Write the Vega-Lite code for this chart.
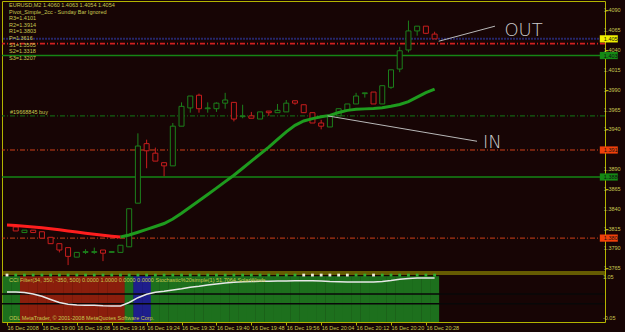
{
  "$schema": "https://vega.github.io/schema/vega-lite/v6.json",
  "autosize": {"type": "none"},
  "padding": {"left": 2, "top": 1, "right": 20, "bottom": 10},
  "background": "#170505",
  "width": 603,
  "height": 321,
  "config": {
    "view": {"stroke": "#b4b400", "strokeWidth": 1, "fill": "#170505"},
    "font": "Liberation Sans",
    "axis": {"labelFont": "Liberation Sans", "labelFontSize": 5.5, "labelColor": "#c8c850", "tickColor": "#b4b400", "domain": false, "grid": false, "labelOverlap": false, "labelBound": false, "labelFlush": false, "title": null}
  },
  "datasets": {
    "candles": [
      {"t":"2008-12-16 18:54","o":1.3817,"h":1.3817,"l":1.3812,"c":1.3812},
      {"t":"2008-12-16 18:56","o":1.3810,"h":1.3813,"l":1.3810,"c":1.3813},
      {"t":"2008-12-16 18:58","o":1.3813,"h":1.3813,"l":1.3810,"c":1.3810},
      {"t":"2008-12-16 19:00","o":1.3811,"h":1.3811,"l":1.3803,"c":1.3803},
      {"t":"2008-12-16 19:02","o":1.3804,"h":1.3804,"l":1.3796,"c":1.3796},
      {"t":"2008-12-16 19:04","o":1.3796,"h":1.3796,"l":1.3785,"c":1.3788},
      {"t":"2008-12-16 19:06","o":1.3791,"h":1.3791,"l":1.3769,"c":1.3780},
      {"t":"2008-12-16 19:08","o":1.3779,"h":1.3785,"l":1.3779,"c":1.3785},
      {"t":"2008-12-16 19:10","o":1.3785,"h":1.3789,"l":1.3783,"c":1.3786},
      {"t":"2008-12-16 19:12","o":1.3785,"h":1.3791,"l":1.3783,"c":1.3786},
      {"t":"2008-12-16 19:14","o":1.3788,"h":1.3788,"l":1.3774,"c":1.3784},
      {"t":"2008-12-16 19:16","o":1.3785,"h":1.3786,"l":1.3785,"c":1.3786},
      {"t":"2008-12-16 19:18","o":1.3785,"h":1.3794,"l":1.3785,"c":1.3794},
      {"t":"2008-12-16 19:20","o":1.3792,"h":1.3840,"l":1.3792,"c":1.3840},
      {"t":"2008-12-16 19:22","o":1.3847,"h":1.3935,"l":1.3847,"c":1.3919},
      {"t":"2008-12-16 19:24","o":1.3922,"h":1.3927,"l":1.3891,"c":1.3913},
      {"t":"2008-12-16 19:26","o":1.3910,"h":1.3917,"l":1.3900,"c":1.3900},
      {"t":"2008-12-16 19:28","o":1.3898,"h":1.3898,"l":1.3881,"c":1.3894},
      {"t":"2008-12-16 19:30","o":1.3894,"h":1.3948,"l":1.3894,"c":1.3944},
      {"t":"2008-12-16 19:32","o":1.3944,"h":1.3974,"l":1.3944,"c":1.3969},
      {"t":"2008-12-16 19:34","o":1.3967,"h":1.3982,"l":1.3961,"c":1.3982},
      {"t":"2008-12-16 19:36","o":1.3983,"h":1.3985,"l":1.3961,"c":1.3966},
      {"t":"2008-12-16 19:38","o":1.3966,"h":1.3974,"l":1.3961,"c":1.3967},
      {"t":"2008-12-16 19:40","o":1.3966,"h":1.3974,"l":1.3962,"c":1.3973},
      {"t":"2008-12-16 19:42","o":1.3973,"h":1.3986,"l":1.3966,"c":1.3977},
      {"t":"2008-12-16 19:44","o":1.3974,"h":1.3974,"l":1.3950,"c":1.3953},
      {"t":"2008-12-16 19:46","o":1.3956,"h":1.3971,"l":1.3954,"c":1.3957},
      {"t":"2008-12-16 19:48","o":1.3957,"h":1.3962,"l":1.3954,"c":1.3954},
      {"t":"2008-12-16 19:50","o":1.3953,"h":1.3962,"l":1.3953,"c":1.3962},
      {"t":"2008-12-16 19:52","o":1.3963,"h":1.3963,"l":1.3957,"c":1.3961},
      {"t":"2008-12-16 19:54","o":1.3961,"h":1.3972,"l":1.3961,"c":1.3964},
      {"t":"2008-12-16 19:56","o":1.3962,"h":1.3977,"l":1.3962,"c":1.3973},
      {"t":"2008-12-16 19:58","o":1.3976,"h":1.3976,"l":1.3971,"c":1.3973},
      {"t":"2008-12-16 20:00","o":1.3971,"h":1.3971,"l":1.3961,"c":1.3961},
      {"t":"2008-12-16 20:02","o":1.3961,"h":1.3961,"l":1.3948,"c":1.3948},
      {"t":"2008-12-16 20:04","o":1.3948,"h":1.3952,"l":1.3940,"c":1.3944},
      {"t":"2008-12-16 20:06","o":1.3943,"h":1.3956,"l":1.3943,"c":1.3956},
      {"t":"2008-12-16 20:08","o":1.3957,"h":1.3966,"l":1.3957,"c":1.3966},
      {"t":"2008-12-16 20:10","o":1.3964,"h":1.3972,"l":1.3964,"c":1.3972},
      {"t":"2008-12-16 20:12","o":1.3972,"h":1.3986,"l":1.3972,"c":1.3982},
      {"t":"2008-12-16 20:14","o":1.3985,"h":1.3986,"l":1.3980,"c":1.3986},
      {"t":"2008-12-16 20:16","o":1.3987,"h":1.3987,"l":1.3972,"c":1.3972},
      {"t":"2008-12-16 20:18","o":1.3972,"h":1.3995,"l":1.3972,"c":1.3995},
      {"t":"2008-12-16 20:20","o":1.3993,"h":1.4015,"l":1.3991,"c":1.4015},
      {"t":"2008-12-16 20:22","o":1.4016,"h":1.4044,"l":1.4012,"c":1.4039},
      {"t":"2008-12-16 20:24","o":1.4040,"h":1.4077,"l":1.4037,"c":1.4064},
      {"t":"2008-12-16 20:26","o":1.4064,"h":1.4070,"l":1.4058,"c":1.4070},
      {"t":"2008-12-16 20:28","o":1.4070,"h":1.4070,"l":1.4060,"c":1.4061},
      {"t":"2008-12-16 20:30","o":1.4060,"h":1.4063,"l":1.4054,"c":1.4054}
    ],
    "ma": [
      {"t":"2008-12-16 18:52","ma":1.38195,"seg":"down"},
      {"t":"2008-12-16 18:54","ma":1.38188,"seg":"down"},
      {"t":"2008-12-16 18:56","ma":1.38180,"seg":"down"},
      {"t":"2008-12-16 18:58","ma":1.38170,"seg":"down"},
      {"t":"2008-12-16 19:00","ma":1.38160,"seg":"down"},
      {"t":"2008-12-16 19:02","ma":1.38148,"seg":"down"},
      {"t":"2008-12-16 19:04","ma":1.38135,"seg":"down"},
      {"t":"2008-12-16 19:06","ma":1.38120,"seg":"down"},
      {"t":"2008-12-16 19:08","ma":1.38106,"seg":"down"},
      {"t":"2008-12-16 19:10","ma":1.38092,"seg":"down"},
      {"t":"2008-12-16 19:12","ma":1.38078,"seg":"down"},
      {"t":"2008-12-16 19:14","ma":1.38066,"seg":"down"},
      {"t":"2008-12-16 19:16","ma":1.38054,"seg":"down"},
      {"t":"2008-12-16 19:18","ma":1.38043,"seg":"down"},
      {"t":"2008-12-16 19:18","ma":1.38043,"seg":"up"},
      {"t":"2008-12-16 19:20","ma":1.38069,"seg":"up"},
      {"t":"2008-12-16 19:22","ma":1.38104,"seg":"up"},
      {"t":"2008-12-16 19:24","ma":1.38140,"seg":"up"},
      {"t":"2008-12-16 19:26","ma":1.38176,"seg":"up"},
      {"t":"2008-12-16 19:28","ma":1.38214,"seg":"up"},
      {"t":"2008-12-16 19:30","ma":1.38270,"seg":"up"},
      {"t":"2008-12-16 19:32","ma":1.38342,"seg":"up"},
      {"t":"2008-12-16 19:34","ma":1.38421,"seg":"up"},
      {"t":"2008-12-16 19:36","ma":1.38501,"seg":"up"},
      {"t":"2008-12-16 19:38","ma":1.38580,"seg":"up"},
      {"t":"2008-12-16 19:40","ma":1.38660,"seg":"up"},
      {"t":"2008-12-16 19:42","ma":1.38741,"seg":"up"},
      {"t":"2008-12-16 19:44","ma":1.38822,"seg":"up"},
      {"t":"2008-12-16 19:46","ma":1.38910,"seg":"up"},
      {"t":"2008-12-16 19:48","ma":1.39000,"seg":"up"},
      {"t":"2008-12-16 19:50","ma":1.39088,"seg":"up"},
      {"t":"2008-12-16 19:52","ma":1.39177,"seg":"up"},
      {"t":"2008-12-16 19:54","ma":1.39273,"seg":"up"},
      {"t":"2008-12-16 19:56","ma":1.39368,"seg":"up"},
      {"t":"2008-12-16 19:58","ma":1.39451,"seg":"up"},
      {"t":"2008-12-16 20:00","ma":1.39505,"seg":"up"},
      {"t":"2008-12-16 20:02","ma":1.39535,"seg":"up"},
      {"t":"2008-12-16 20:04","ma":1.39559,"seg":"up"},
      {"t":"2008-12-16 20:06","ma":1.39576,"seg":"up"},
      {"t":"2008-12-16 20:08","ma":1.39612,"seg":"up"},
      {"t":"2008-12-16 20:10","ma":1.39639,"seg":"up"},
      {"t":"2008-12-16 20:12","ma":1.39652,"seg":"up"},
      {"t":"2008-12-16 20:14","ma":1.39658,"seg":"up"},
      {"t":"2008-12-16 20:16","ma":1.39663,"seg":"up"},
      {"t":"2008-12-16 20:18","ma":1.39671,"seg":"up"},
      {"t":"2008-12-16 20:20","ma":1.39690,"seg":"up"},
      {"t":"2008-12-16 20:22","ma":1.39713,"seg":"up"},
      {"t":"2008-12-16 20:24","ma":1.39749,"seg":"up"},
      {"t":"2008-12-16 20:26","ma":1.39807,"seg":"up"},
      {"t":"2008-12-16 20:28","ma":1.39862,"seg":"up"},
      {"t":"2008-12-16 20:30","ma":1.39908,"seg":"up"}
    ],
    "levels": [
      {"p":1.4054,"kind":"bid"},
      {"p":1.4048,"kind":"stop"},
      {"p":1.4033,"kind":"pivot_g"},
      {"p":1.3957,"kind":"order","note":"#19668845 buy"},
      {"p":1.3914,"kind":"pivot_r"},
      {"p":1.3880,"kind":"pivot_g"},
      {"p":1.3803,"kind":"pivot_r"}
    ],
    "pticks": [
      {"p":1.4090},{"p":1.4065},{"p":1.4040},{"p":1.4015},{"p":1.3990},{"p":1.3965},{"p":1.3940},
      {"p":1.3890},{"p":1.3865},{"p":1.3840},{"p":1.3815},{"p":1.3790},{"p":1.3765}
    ],
    "arrows": [
      {"name":"in","t":"2008-12-16 20:05:28","p":1.3957},
      {"name":"in","t":"2008-12-16 20:39:43","p":1.3925},
      {"name":"out","t":"2008-12-16 20:30:56","p":1.4051},
      {"name":"out","t":"2008-12-16 20:43:50","p":1.4070}
    ],
    "notes": [
      {"t":"2008-12-16 20:41:04","p":1.3923,"text":"IN"},
      {"t":"2008-12-16 20:46:00","p":1.4064,"text":"OUT"}
    ],
    "panel": [
      {"t":"2008-12-16 18:52","st":0.637,"zone":"g","dot":"w"},
      {"t":"2008-12-16 18:54","st":0.637,"zone":"g","dot":"g"},
      {"t":"2008-12-16 18:56","st":0.626,"zone":"r","dot":"g"},
      {"t":"2008-12-16 18:58","st":0.592,"zone":"r","dot":"g"},
      {"t":"2008-12-16 19:00","st":0.539,"zone":"r","dot":"g"},
      {"t":"2008-12-16 19:02","st":0.466,"zone":"r","dot":"g"},
      {"t":"2008-12-16 19:04","st":0.397,"zone":"r","dot":"g"},
      {"t":"2008-12-16 19:06","st":0.356,"zone":"r","dot":"g"},
      {"t":"2008-12-16 19:08","st":0.340,"zone":"r","dot":"g"},
      {"t":"2008-12-16 19:10","st":0.333,"zone":"r","dot":"g"},
      {"t":"2008-12-16 19:12","st":0.333,"zone":"r","dot":"g"},
      {"t":"2008-12-16 19:14","st":0.321,"zone":"r","dot":"g"},
      {"t":"2008-12-16 19:16","st":0.317,"zone":"r","dot":"g"},
      {"t":"2008-12-16 19:18","st":0.317,"zone":"r","dot":"g"},
      {"t":"2008-12-16 19:20","st":0.397,"zone":"g","dot":"g"},
      {"t":"2008-12-16 19:22","st":0.507,"zone":"b","dot":"g"},
      {"t":"2008-12-16 19:24","st":0.585,"zone":"b","dot":"g"},
      {"t":"2008-12-16 19:26","st":0.633,"zone":"g","dot":"g"},
      {"t":"2008-12-16 19:28","st":0.654,"zone":"g","dot":"g"},
      {"t":"2008-12-16 19:30","st":0.683,"zone":"g","dot":"g"},
      {"t":"2008-12-16 19:32","st":0.713,"zone":"g","dot":"g"},
      {"t":"2008-12-16 19:34","st":0.748,"zone":"g","dot":"g"},
      {"t":"2008-12-16 19:36","st":0.770,"zone":"g","dot":"g"},
      {"t":"2008-12-16 19:38","st":0.798,"zone":"g","dot":"g"},
      {"t":"2008-12-16 19:40","st":0.821,"zone":"g","dot":"g"},
      {"t":"2008-12-16 19:42","st":0.844,"zone":"g","dot":"g"},
      {"t":"2008-12-16 19:44","st":0.862,"zone":"g","dot":"g"},
      {"t":"2008-12-16 19:46","st":0.871,"zone":"g","dot":"g"},
      {"t":"2008-12-16 19:48","st":0.878,"zone":"g","dot":"g"},
      {"t":"2008-12-16 19:50","st":0.883,"zone":"g","dot":"g"},
      {"t":"2008-12-16 19:52","st":0.885,"zone":"g","dot":"g"},
      {"t":"2008-12-16 19:54","st":0.888,"zone":"g","dot":"g"},
      {"t":"2008-12-16 19:56","st":0.890,"zone":"g","dot":"g"},
      {"t":"2008-12-16 19:58","st":0.893,"zone":"g","dot":"g"},
      {"t":"2008-12-16 20:00","st":0.896,"zone":"g","dot":"w"},
      {"t":"2008-12-16 20:02","st":0.894,"zone":"g","dot":"w"},
      {"t":"2008-12-16 20:04","st":0.889,"zone":"g","dot":"w"},
      {"t":"2008-12-16 20:06","st":0.878,"zone":"g","dot":"w"},
      {"t":"2008-12-16 20:08","st":0.872,"zone":"g","dot":"w"},
      {"t":"2008-12-16 20:10","st":0.867,"zone":"g","dot":"w"},
      {"t":"2008-12-16 20:12","st":0.867,"zone":"g","dot":"g"},
      {"t":"2008-12-16 20:14","st":0.866,"zone":"g","dot":"g"},
      {"t":"2008-12-16 20:16","st":0.867,"zone":"g","dot":"w"},
      {"t":"2008-12-16 20:18","st":0.880,"zone":"g","dot":"g"},
      {"t":"2008-12-16 20:20","st":0.901,"zone":"g","dot":"g"},
      {"t":"2008-12-16 20:22","st":0.929,"zone":"g","dot":"g"},
      {"t":"2008-12-16 20:24","st":0.947,"zone":"g","dot":"g"},
      {"t":"2008-12-16 20:26","st":0.958,"zone":"g","dot":"g"},
      {"t":"2008-12-16 20:28","st":0.958,"zone":"g","dot":"g"},
      {"t":"2008-12-16 20:30","st":0.958,"zone":"g","dot":"g"}
    ],
    "plevels": [{"lv":0.59},{"lv":0.37}]
  },
  "resolve": {"scale": {"y": "independent", "color": "independent", "fill": "independent"}, "axis": {"y": "independent"}},
  "layer": [
    {
      "layer": [
        {
          "data": {"name": "levels"},
          "mark": {"type": "rule"},
          "encoding": {
            "y": {"field": "p", "type": "quantitative",
              "scale": {"domain": [1.37603, 1.41017], "range": [271, 0], "nice": false, "zero": false},
              "axis": {"orient": "right", "title": null, "values": [1.409,1.4065,1.404,1.4015,1.399,1.3965,1.394,1.389,1.3865,1.384,1.3815,1.379,1.3765],
                "labels": false, "tickSize": 3}},
            "stroke": {"field": "kind", "type": "nominal", "scale": {"domain": ["bid","stop","pivot_g","order","pivot_r"], "range": ["#26266a","#d02020","#158515","#136013","#d0401a"]}, "legend": null},
            "strokeDash": {"field": "kind", "type": "nominal", "scale": {"domain": ["bid","stop","pivot_g","order","pivot_r"], "range": [[2,1],[5,2,1,2],[1,0],[5,2,1,2],[5,2,1,2]]}, "legend": null},
            "strokeWidth": {"field": "kind", "type": "nominal", "scale": {"domain": ["bid","stop","pivot_g","order","pivot_r"], "range": [2,1,2,1,1]}, "legend": null}
          }
        },
        {
          "data": {"values": [{}]},
          "mark": {"type": "rule", "color": "#b4b400", "strokeWidth": 1},
          "encoding": {
            "y": {"datum": 1.37603, "type": "quantitative"}
          }
        },
        {
          "data": {"name": "candles"},
          "mark": {"type": "rule", "strokeWidth": 1},
          "encoding": {
            "x": {"field": "t", "type": "temporal",
              "scale": {"domain": [{"year":2008,"month":12,"date":16,"hours":18,"minutes":52},{"year":2008,"month":12,"date":16,"hours":21,"minutes":7,"seconds":54}]}},
            "y": {"field": "l", "type": "quantitative"},
            "y2": {"field": "h"},
            "color": {"condition": {"test": "datum.c >= datum.o", "value": "#1c801c"}, "value": "#c81e1e"}
          }
        },
        {
          "data": {"name": "candles"},
          "mark": {"type": "bar", "width": 5, "fill": "#170505", "strokeWidth": 1},
          "encoding": {
            "x": {"field": "t", "type": "temporal"},
            "y": {"field": "o", "type": "quantitative"},
            "y2": {"field": "c"},
            "stroke": {"condition": {"test": "datum.c >= datum.o", "value": "#1c801c"}, "value": "#c81e1e"}
          }
        },
        {
          "data": {"name": "ma"},
          "mark": {"type": "line", "strokeWidth": 3},
          "encoding": {
            "x": {"field": "t", "type": "temporal"},
            "y": {"field": "ma", "type": "quantitative"},
            "color": {"field": "seg", "type": "nominal", "scale": {"domain": ["down","up"], "range": ["#ff1e1e","#1e9b1e"]}, "legend": null}
          }
        },
        {
          "data": {"name": "arrows"},
          "mark": {"type": "line", "color": "#b8b8b8", "strokeWidth": 1},
          "encoding": {
            "x": {"field": "t", "type": "temporal"},
            "y": {"field": "p", "type": "quantitative"},
            "detail": {"field": "name", "type": "nominal"}
          }
        },
        {
          "data": {"name": "notes"},
          "mark": {"type": "text", "align": "left", "baseline": "middle", "font": "DejaVu Sans", "fontWeight": 200, "fontSize": 18, "color": "#cccccc"},
          "encoding": {
            "x": {"field": "t", "type": "temporal"},
            "y": {"field": "p", "type": "quantitative"},
            "text": {"field": "text"}
          }
        },
        {
          "data": {"values": [{}]},
          "mark": {"type": "text", "align": "left", "baseline": "top", "dx": 2, "dy": 2, "fontSize": 5.5, "lineHeight": 6.6, "color": "#c8c850"},
          "encoding": {
            "x": {"datum": {"year":2008,"month":12,"date":16,"hours":18,"minutes":52}, "type": "temporal"},
            "y": {"datum": 1.41017, "type": "quantitative"},
            "text": {"value": ["EURUSD,M2  1.4060 1.4063 1.4054 1.4054", "Pivot_Simple_2cc - Sunday Bar Ignored", "R3=1.4101", "R2=1.3914", "R1=1.3803", "P=1.3616", "S1=1.3505", "S2=1.3318", "S3=1.3207"]}
          }
        },
        {
          "data": {"name": "levels"},
          "transform": [{"filter": "isValid(datum.note)"}],
          "mark": {"type": "text", "align": "left", "baseline": "bottom", "dx": 3, "dy": -0.5, "fontSize": 5.5, "color": "#c8c850"},
          "encoding": {
            "x": {"datum": {"year":2008,"month":12,"date":16,"hours":18,"minutes":52}, "type": "temporal"},
            "y": {"field": "p", "type": "quantitative"},
            "text": {"field": "note"}
          }
        },
        {
          "data": {"name": "pticks"},
          "mark": {"type": "text", "align": "left", "baseline": "middle", "fontSize": 5.5, "color": "#c8c850"},
          "encoding": {
            "x": {"datum": {"year":2008,"month":12,"date":16,"hours":21,"minutes":8,"seconds":47}, "type": "temporal"},
            "y": {"field": "p", "type": "quantitative"},
            "text": {"field": "p", "type": "quantitative", "format": ".4f"}
          }
        },
        {
          "data": {"name": "levels"},
          "transform": [{"filter": "datum.kind == 'bid' || datum.kind == 'pivot_g' || datum.kind == 'pivot_r'"}],
          "mark": {"type": "point", "shape": "M-1,-0.4H1V0.4H-1Z", "size": 324, "filled": true, "opacity": 1, "strokeWidth": 0},
          "encoding": {
            "x": {"datum": {"year":2008,"month":12,"date":16,"hours":21,"minutes":9,"seconds":55}, "type": "temporal"},
            "y": {"field": "p", "type": "quantitative"},
            "fill": {"field": "kind", "type": "nominal", "scale": {"domain": ["bid","pivot_g","pivot_r"], "range": ["#f0f000","#148a14","#f0400a"]}, "legend": null}
          }
        },
        {
          "data": {"name": "levels"},
          "transform": [{"filter": "datum.kind == 'bid' || datum.kind == 'pivot_g' || datum.kind == 'pivot_r'"}],
          "mark": {"type": "text", "align": "left", "baseline": "middle", "fontSize": 5.5, "color": "#101010"},
          "encoding": {
            "x": {"datum": {"year":2008,"month":12,"date":16,"hours":21,"minutes":8,"seconds":47}, "type": "temporal"},
            "y": {"field": "p", "type": "quantitative"},
            "text": {"field": "p", "type": "quantitative", "format": ".4f"}
          }
        }
      ]
    },
    {
      "layer": [
        {
          "data": {"name": "panel"},
          "mark": {"type": "bar", "width": 9, "strokeWidth": 0},
          "encoding": {
            "x": {"field": "t", "type": "temporal",
              "axis": {"orient": "bottom", "title": null, "values": [
                {"year":2008,"month":12,"date":16,"hours":18,"minutes":52},
                {"year":2008,"month":12,"date":16,"hours":19,"minutes":0},
                {"year":2008,"month":12,"date":16,"hours":19,"minutes":8},
                {"year":2008,"month":12,"date":16,"hours":19,"minutes":16},
                {"year":2008,"month":12,"date":16,"hours":19,"minutes":24},
                {"year":2008,"month":12,"date":16,"hours":19,"minutes":32},
                {"year":2008,"month":12,"date":16,"hours":19,"minutes":40},
                {"year":2008,"month":12,"date":16,"hours":19,"minutes":48},
                {"year":2008,"month":12,"date":16,"hours":19,"minutes":56},
                {"year":2008,"month":12,"date":16,"hours":20,"minutes":4},
                {"year":2008,"month":12,"date":16,"hours":20,"minutes":12},
                {"year":2008,"month":12,"date":16,"hours":20,"minutes":20},
                {"year":2008,"month":12,"date":16,"hours":20,"minutes":28}],
                "labelExpr": "hours(datum.value) == 18 ? timeFormat(datum.value, '%d %b %Y') : timeFormat(datum.value, '%d %b %H:%M')",
                "labelAlign": "left", "labelBaseline": "top", "labelPadding": 0, "tickSize": 3, "labelOverlap": false, "labelFlush": false, "labelBound": false}},
            "y": {"datum": 1.0, "type": "quantitative",
              "scale": {"domain": [-0.05, 1.05], "range": [321, 273], "nice": false, "zero": false},
              "axis": null},
            "y2": {"datum": -0.05},
            "fill": {"field": "zone", "type": "nominal", "scale": {"domain": ["g","r","b"], "range": ["#1d701d","#8a1e0c","#1e1e8c"]}, "legend": null}
          }
        },
        {
          "data": {"values": [{}]},
          "mark": {"type": "rule", "color": "#b4b400", "strokeWidth": 1},
          "encoding": {
            "y": {"datum": 1.05, "type": "quantitative", "axis": null}
          }
        },
        {
          "data": {"name": "panel"},
          "mark": {"type": "point", "shape": "square", "size": 8, "filled": true, "opacity": 1},
          "encoding": {
            "x": {"field": "t", "type": "temporal"},
            "y": {"datum": 1.025, "type": "quantitative", "axis": null},
            "color": {"field": "dot", "type": "nominal", "scale": {"domain": ["g","w"], "range": ["#30b030","#f0f0e0"]}, "legend": null}
          }
        },
        {
          "data": {"name": "plevels"},
          "mark": {"type": "rule", "color": "#080808", "strokeWidth": 1.5},
          "encoding": {
            "y": {"field": "lv", "type": "quantitative", "axis": null}
          }
        },
        {
          "data": {"name": "panel"},
          "mark": {"type": "line", "color": "#e8e8e8", "strokeWidth": 1.5},
          "encoding": {
            "x": {"field": "t", "type": "temporal"},
            "y": {"field": "st", "type": "quantitative", "axis": null}
          }
        },
        {
          "data": {"values": [{}]},
          "mark": {"type": "text", "align": "left", "baseline": "top", "dx": 2, "dy": 1.5, "fontSize": 5.5, "color": "#c8c850"},
          "encoding": {
            "x": {"datum": {"year":2008,"month":12,"date":16,"hours":18,"minutes":52}, "type": "temporal"},
            "y": {"datum": 1.0, "type": "quantitative", "axis": null},
            "text": {"value": "CCI  Filter(34, 350, -350, 500) 0.0000 1.0000 0.0000 0.0000  Stochastic%20simple(1) 51.7064  SolarWinds"}
          }
        },
        {
          "data": {"values": [{}]},
          "mark": {"type": "text", "align": "left", "baseline": "bottom", "dx": 2, "dy": -1, "fontSize": 5.5, "color": "#c8c850"},
          "encoding": {
            "x": {"datum": {"year":2008,"month":12,"date":16,"hours":18,"minutes":52}, "type": "temporal"},
            "y": {"datum": -0.05, "type": "quantitative", "axis": null},
            "text": {"value": "ODL MetaTrader, © 2001-2008 MetaQuotes Software Corp."}
          }
        },
        {
          "data": {"values": [{}]},
          "mark": {"type": "text", "align": "left", "baseline": "top", "dx": 0, "dy": 1, "fontSize": 5.5, "color": "#c8c850"},
          "encoding": {
            "x": {"datum": {"year":2008,"month":12,"date":16,"hours":21,"minutes":8,"seconds":34}, "type": "temporal"},
            "y": {"datum": 1.05, "type": "quantitative", "axis": null},
            "text": {"value": "1.05"}
          }
        },
        {
          "data": {"values": [{}]},
          "mark": {"type": "text", "align": "left", "baseline": "bottom", "dx": 0, "dy": -1, "fontSize": 5.5, "color": "#c8c850"},
          "encoding": {
            "x": {"datum": {"year":2008,"month":12,"date":16,"hours":21,"minutes":8,"seconds":34}, "type": "temporal"},
            "y": {"datum": -0.05, "type": "quantitative", "axis": null},
            "text": {"value": "-0.05"}
          }
        }
      ]
    }
  ]
}
